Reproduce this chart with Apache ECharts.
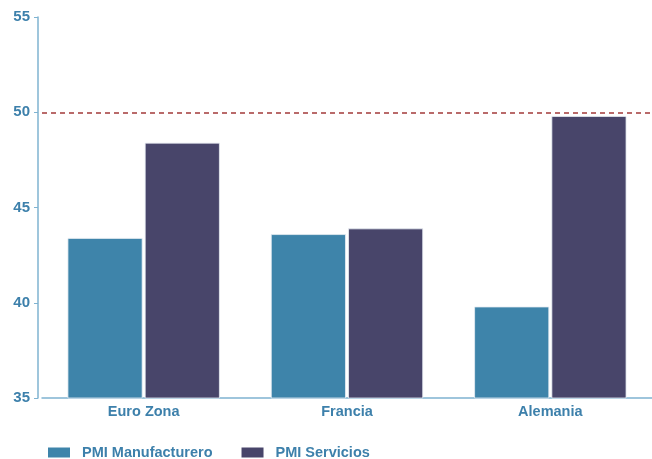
<!DOCTYPE html>
<html><head><meta charset="utf-8">
<script src="https://cdn.jsdelivr.net/npm/echarts@6/dist/echarts.min.js"></script>
<style>html,body{margin:0;padding:0;background:#fff}#c{width:652px;height:459px}</style>
</head><body><div id="c"></div>
<script>
const categories = ['Euro Zona', 'Francia', 'Alemania'];
const manufacturero = [43.4, 43.6, 39.8];
const servicios = [48.4, 43.9, 49.8];
const seriesNames = ['PMI Manufacturero', 'PMI Servicios'];
const threshold = 50;

const chart = echarts.init(document.getElementById('c'), null, {renderer: 'canvas'});
const labelColor = '#3d80ab';
const ff = 'Liberation Sans, Arial, sans-serif';
chart.setOption({
  animation: false,
  textStyle: {fontFamily: ff},
  grid: {left: 42, right: -2, top: 17, bottom: 61, containLabel: false},
  legend: {
    data: seriesNames, left: 43, top: 440, itemWidth: 22, itemHeight: 10, itemGap: 29,
    icon: 'rect',
    itemStyle: {borderWidth: 0},
    textStyle: {color: labelColor, fontWeight: 'bold', fontSize: 14.5, fontFamily: ff, padding: [0, 0, 0, 7]}
  },
  xAxis: {
    type: 'category', data: categories,
    axisLine: {lineStyle: {color: '#7fb3d1', width: 1.5}},
    axisTick: {show: false},
    axisLabel: {color: labelColor, fontWeight: 'bold', fontSize: 14.5, margin: 6, fontFamily: ff}
  },
  yAxis: {
    type: 'value', min: 35, max: 55, interval: 5, offset: 4,
    splitLine: {show: false},
    axisLine: {show: true, lineStyle: {color: '#7fb3d1', width: 1.5}},
    axisTick: {show: true, length: 4, lineStyle: {color: '#7fb3d1'}},
    axisLabel: {color: labelColor, fontWeight: 'bold', fontSize: 15, margin: 8, fontFamily: ff}
  },
  series: [
    {
      name: seriesNames[0], type: 'bar', data: manufacturero, barWidth: 75, barGap: '3%',
      itemStyle: {color: '#3e84aa', borderColor: '#e8eef4', borderWidth: 0.8},
      markLine: {
        silent: true, symbol: 'none', label: {show: false},
        lineStyle: {color: '#a33a3a', type: [5, 4], width: 1.5},
        data: [{yAxis: threshold}]
      }
    },
    {
      name: seriesNames[1], type: 'bar', data: servicios, barWidth: 75,
      itemStyle: {color: '#48456a', borderColor: '#e8eef4', borderWidth: 0.8}
    }
  ]
});
</script></body></html>
